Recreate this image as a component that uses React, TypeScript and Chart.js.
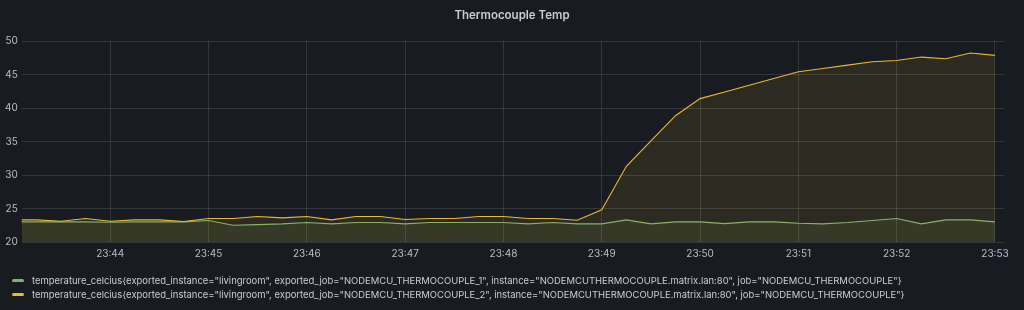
import React, { useEffect, useRef } from "react";
import { Chart, registerables } from "chart.js";

Chart.register(...registerables);

// seconds after 23:43:00, one sample every 15 s
const times: number[] = [
  0, 15, 30, 45, 60, 75, 90, 105, 120, 135, 150, 165, 180, 195, 210, 225, 240, 255, 270, 285,
  300, 315, 330, 345, 360, 375, 390, 405, 420, 435, 450, 465, 480, 495, 510, 525, 540, 555, 570, 585, 600,
];

const thermocouple1: number[] = [
  23.0, 23.0, 23.0, 23.0, 22.95, 23.0, 23.0, 23.0, 23.2, 22.5, 22.6, 22.7, 22.9, 22.7, 22.9, 22.9,
  22.7, 22.9, 22.9, 22.9, 22.9, 22.7, 22.9, 22.7, 22.7, 23.3, 22.7, 23.0, 23.0, 22.75, 23.0, 23.0,
  22.8, 22.7, 22.9, 23.2, 23.5, 22.7, 23.3, 23.3, 23.0,
];

const thermocouple2: number[] = [
  23.3, 23.3, 23.1, 23.5, 23.1, 23.3, 23.3, 23.05, 23.5, 23.5, 23.8, 23.6, 23.8, 23.3, 23.8, 23.8,
  23.35, 23.5, 23.5, 23.8, 23.8, 23.5, 23.5, 23.25, 24.8, 31.3, 35.1, 38.85, 41.4, 42.4, 43.4, 44.4,
  45.4, 45.9, 46.4, 46.9, 47.1, 47.6, 47.35, 48.2, 47.85,
];

const xTickSeconds: number[] = [60, 120, 180, 240, 300, 360, 420, 480, 540, 600];
const yTicks: number[] = [20, 25, 30, 35, 40, 45, 50];

const seriesNames: string[] = [
  'temperature_celcius{exported_instance="livingroom", exported_job="NODEMCU_THERMOCOUPLE_1", instance="NODEMCUTHERMOCOUPLE.matrix.lan:80", job="NODEMCU_THERMOCOUPLE"}',
  'temperature_celcius{exported_instance="livingroom", exported_job="NODEMCU_THERMOCOUPLE_2", instance="NODEMCUTHERMOCOUPLE.matrix.lan:80", job="NODEMCU_THERMOCOUPLE"}',
];
const seriesColors: string[] = ["#7EB26D", "#EAB839"];
const seriesFills: string[] = ["rgba(126,178,109,0.1)", "rgba(234,184,57,0.1)"];

const title = "Thermocouple Temp";

function fmtTime(sec: number): string {
  const total = 23 * 60 + 43 + Math.floor(sec / 60);
  const h = Math.floor(total / 60) % 24;
  const m = total % 60;
  return `${String(h).padStart(2, "0")}:${String(m).padStart(2, "0")}`;
}

const FONT = "Inter, 'Noto Sans', sans-serif";
const TEXT = "rgba(204,204,220,0.9)";
const GRID = "rgba(255,255,255,0.12)";

export default function App() {
  const ref = useRef<HTMLCanvasElement | null>(null);

  useEffect(() => {
    document.body.style.margin = "0";
    document.body.style.background = "#181b1f";
    if (!ref.current) return;
    const mk = (vals: number[]) => times.map((t, i) => ({ x: t, y: vals[i] }));
    const chart = new Chart(ref.current, {
      type: "line",
      data: {
        datasets: [
          {
            label: seriesNames[1],
            data: mk(thermocouple2),
            borderColor: seriesColors[1],
            backgroundColor: seriesFills[1],
            borderWidth: 1.1,
            pointRadius: 0,
            fill: "start",
            tension: 0,
          },
          {
            label: seriesNames[0],
            data: mk(thermocouple1),
            borderColor: seriesColors[0],
            backgroundColor: seriesFills[0],
            borderWidth: 1.1,
            pointRadius: 0,
            fill: "start",
            tension: 0,
          },
        ],
      },
      options: {
        animation: false,
        responsive: false,
        maintainAspectRatio: false,
        layout: { padding: { left: 1, right: 20, top: 41, bottom: 44 } },
        plugins: { legend: { display: false }, title: { display: false }, tooltip: { enabled: false } },
        scales: {
          x: {
            type: "linear",
            min: 6,
            max: 605.5,
            afterBuildTicks: (scale: any) => {
              scale.ticks = xTickSeconds.map((v) => ({ value: v }));
            },
            ticks: {
              autoSkip: false,
              maxRotation: 0,
              padding: 6,
              color: TEXT,
              font: { family: FONT, size: 10 },
              callback: (v: any) => fmtTime(Number(v)),
            },
            grid: { color: GRID, drawTicks: false, lineWidth: 1 },
            border: { display: false },
          },
          y: {
            type: "linear",
            min: 20,
            max: 50,
            afterBuildTicks: (scale: any) => {
              scale.ticks = yTicks.map((v) => ({ value: v }));
            },
            ticks: {
              padding: 4,
              color: TEXT,
              font: { family: FONT, size: 10 },
            },
            grid: { color: GRID, drawTicks: false, lineWidth: 1 },
            border: { display: false },
          },
        },
      },
    });
    return () => chart.destroy();
  }, []);

  return (
    <div style={{ position: "relative", width: 1024, height: 310, background: "#181b1f", overflow: "hidden" }}>
      <canvas ref={ref} width={1024} height={310} style={{ position: "absolute", left: 0, top: 0, width: 1024, height: 310 }} />
      <div
        style={{
          position: "absolute",
          top: 6,
          left: 0,
          width: 1024,
          textAlign: "center",
          fontFamily: FONT,
          fontSize: 11.5,
          fontWeight: 600,
          color: "#ccccdc",
          lineHeight: "18px",
        }}
      >
        {title}
      </div>
      <div style={{ position: "absolute", top: 273.5, left: 12, fontFamily: FONT, fontSize: 9.45, color: "#ccccdc" }}>
        {seriesNames.map((name, i) => (
          <div key={i} style={{ display: "flex", alignItems: "center", height: 14, whiteSpace: "nowrap" }}>
            <span
              style={{
                display: "inline-block",
                width: 12,
                height: 3.5,
                borderRadius: 2,
                background: seriesColors[i],
                marginRight: 8,
              }}
            />
            <span>{name}</span>
          </div>
        ))}
      </div>
    </div>
  );
}
